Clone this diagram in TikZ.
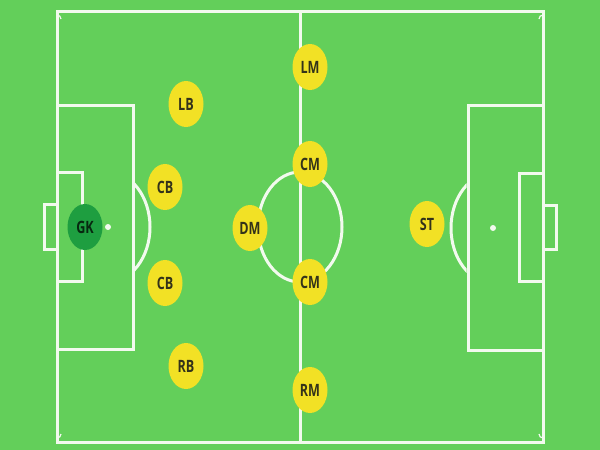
\documentclass[tikz,border=0pt]{standalone}
\usepackage{fontspec}
\setmainfont{Open Sans}
\usetikzlibrary{shapes.geometric}
\definecolor{pitch}{HTML}{63CF5A}
\definecolor{chalk}{HTML}{F2FAEE}
\definecolor{yel}{HTML}{F2E125}
\definecolor{gkgreen}{HTML}{1E9E40}
\definecolor{txt}{HTML}{33331A}
\tikzset{
  chalkline/.style={draw=chalk, line width=3pt},
  player/.style={ellipse, fill=yel, minimum width=35pt, minimum height=46pt, inner sep=0pt,
    text=txt, font=\fontsize{17}{17}\selectfont\bfseries},
  keeper/.style={player, fill=gkgreen, text=black!75!gkgreen}
}
\newcommand{\plabel}[1]{\scalebox{0.74}[1]{#1}}
\begin{document}
\begin{tikzpicture}[x=1pt,y=-1pt]
\fill[pitch] (0,0) rectangle (600,450);
\useasboundingbox (0,0) rectangle (600,450);
% field
\draw[chalkline] (57,11) rectangle (543,442);
\draw[chalkline] (300,11) -- (300,442);
\draw[chalkline] (300,227) ellipse [x radius=42, y radius=55];
% left side
\draw[chalkline] (57,105) rectangle (133,349);
\draw[chalkline] (57,172) rectangle (82,281);
\draw[chalkline] (44,204) rectangle (57,249);
\fill[chalk] (108,227) circle (3);
\begin{scope}
\clip (134.5,0) rectangle (300,450);
\draw[chalkline] (108,227) ellipse [x radius=42, y radius=55];
\end{scope}
% right side
\draw[chalkline] (468,105) rectangle (543,350);
\draw[chalkline] (519,173) rectangle (543,281);
\draw[chalkline] (543,205) rectangle (556,249);
\fill[chalk] (493,228) circle (3);
\begin{scope}
\clip (300,0) rectangle (466.5,450);
\draw[chalkline] (493,228) ellipse [x radius=42, y radius=55];
\end{scope}
% corner arcs
\draw[draw=chalk, line width=1.2pt] (57,15) arc[start angle=-90, end angle=0, radius=4];
\draw[draw=chalk, line width=1.2pt] (543,15) arc[start angle=-90, end angle=-180, radius=4];
\draw[draw=chalk, line width=1.2pt] (57,438) arc[start angle=90, end angle=0, radius=4];
\draw[draw=chalk, line width=1.2pt] (543,438) arc[start angle=90, end angle=180, radius=4];
% players
\node[keeper] (gk) at (85,227) {\plabel{GK}};
\node[player] (lb) at (186,104) {\plabel{LB}};
\node[player] (cb1) at (165,187) {\plabel{CB}};
\node[player] (cb2) at (165,283) {\plabel{CB}};
\node[player] (rb) at (186,366) {\plabel{RB}};
\node[player] (dm) at (250,228) {\plabel{DM}};
\node[player] (cm1) at (310,164) {\plabel{CM}};
\node[player] (cm2) at (310,282) {\plabel{CM}};
\node[player] (lm) at (310,67) {\plabel{LM}};
\node[player] (rm) at (310,390) {\plabel{RM}};
\node[player] (st) at (427,224) {\plabel{ST}};
\end{tikzpicture}
\end{document}
